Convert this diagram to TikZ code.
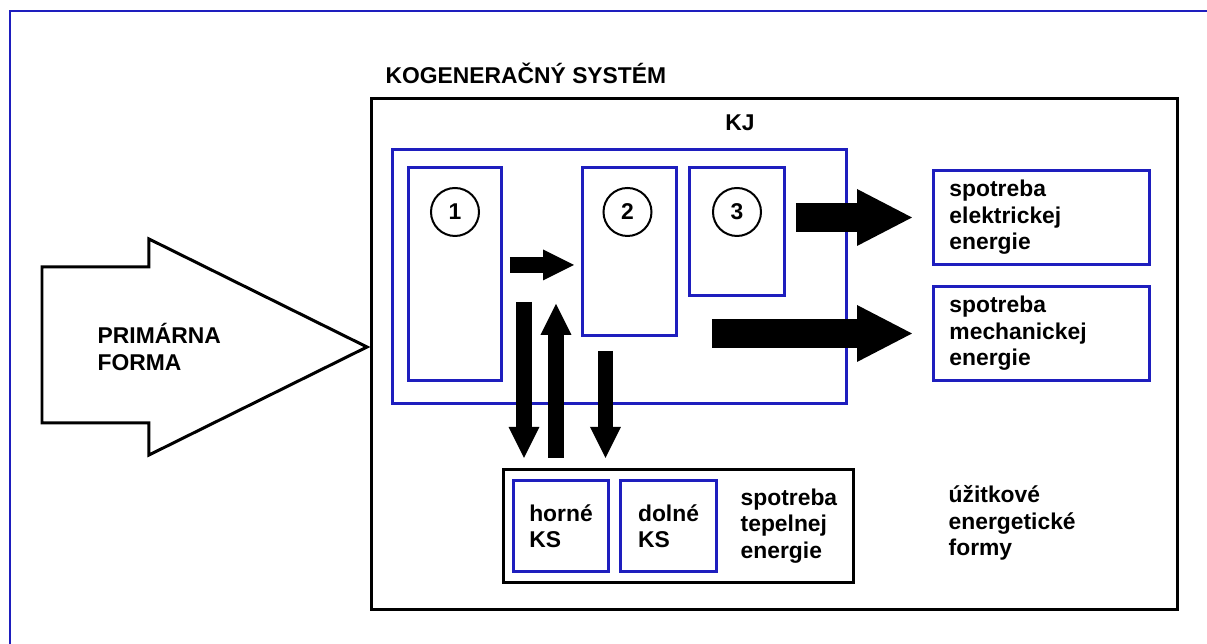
\documentclass[tikz,border=0pt]{standalone}
\usepackage{fontspec}
\setmainfont{Liberation Sans}
\usetikzlibrary{positioning,arrows.meta}
\definecolor{kjblue}{RGB}{30,30,190}

\begin{document}
\begin{tikzpicture}[x=0.1mm, y=-0.1mm, font=\fontsize{6.5}{7.5}\selectfont\bfseries,
    blok/.style = {draw=kjblue, line width=0.3mm, inner sep=0pt, anchor=north west},
    ramec/.style = {draw, line width=0.3mm, inner sep=0pt, anchor=north west},
    cislo/.style = {draw, circle, line width=0.2mm, minimum size=4.8mm, inner sep=0pt},
    popis/.style = {align=left, inner sep=0pt},
    spotreba/.style = {blok, text width=18.4mm, inner xsep=1.6mm, minimum height=9.4mm, align=left},
    sipka/.style = {line width=1.55mm, -{Triangle[length=3.1mm, width=3.1mm, line width=0pt]}},
    velka/.style = {line width=2.85mm, -{Triangle[length=5.5mm, width=5.7mm, line width=0pt]}}]
        \useasboundingbox (0,0) rectangle (1207,644);
        \draw[kjblue, line width=0.25mm] (10,11) rectangle (1250,700);
        % primarna forma
        \draw[line width=0.3mm] (42,267) -- (149,267) -- (149,239) -- (367,347) -- (149,455) -- (149,423) -- (42,423) -- cycle;
        \node[popis, anchor=west] (prim) at (97,347) {PRIM\'ARNA\\FORMA};
        % kogeneracny system
        \node[ramec, minimum width=80.6mm, minimum height=51.1mm] (ks) at (370,97) {};
        \node[popis, anchor=base west] (kstxt) at (385,84) {KOGENERAČNÝ SYSTÉM};
        \node[blok, minimum width=45.4mm, minimum height=25.4mm] (kj) at (391,148) {};
        \node[anchor=base] (kjtxt) at (740,131) {KJ};
        \node[blok, minimum width=9.3mm, minimum height=21.3mm] (b1) at (407,166) {};
        \node[blok, minimum width=9.4mm, minimum height=16.8mm] (b2) at (581,166) {};
        \node[blok, minimum width=9.5mm, minimum height=12.8mm] (b3) at (688,166) {};
        \node[cislo, below=2.1mm of b1.north] (c1) {1};
        \node[cislo, below=2.1mm of b2.north, xshift=-0.2mm] (c2) {2};
        \node[cislo, below=2.1mm of b3.north] (c3) {3};
        % spotreba
        \node[spotreba] (elec) at (932,169) {spotreba\\elektrickej\\energie};
        \node[spotreba] (mech) at (932,285) {spotreba\\mechanickej\\energie};
        \node[ramec, minimum width=35mm, minimum height=11.3mm] (teplo) at (502,468) {};
        \node[blok, minimum width=9.5mm, minimum height=9.1mm, align=left] (hor) at (512,479) {horné\\KS};
        \node[blok, minimum width=9.6mm, minimum height=9.1mm, align=left] (dol) at (619,479) {dolné\\KS};
        \node[popis, right=2.2mm of dol] (tep) {spotreba\\tepelnej\\energie};
        \node[popis, anchor=west] (uzit) at (948,523) {úžitkové\\energetické\\formy};
        % sipky
        \coordinate (d1) at (524,302);
        \coordinate (u1) at (556,304);
        \coordinate (d2) at ([xshift=-2.4mm]b2.south);
        \coordinate (m0) at (712,332);
        \draw[sipka, shorten <=0.7mm, shorten >=0.7mm] (b1.east |- 0,265) -- (b2.west |- 0,265);
        \draw[sipka, shorten >=1mm] (d1) -- (d1 |- teplo.north);
        \draw[sipka, shorten <=1mm] (u1 |- teplo.north) -- (u1);
        \draw[sipka, shorten <=1.4mm, shorten >=1mm] (d2) -- (d2 |- teplo.north);
        \draw[velka, shorten <=1mm, shorten >=2mm] (b3.east |- elec.west) -- (elec.west);
        \draw[velka, shorten >=2mm] (m0 |- mech.west) -- (mech.west);
\end{tikzpicture}
\end{document}
